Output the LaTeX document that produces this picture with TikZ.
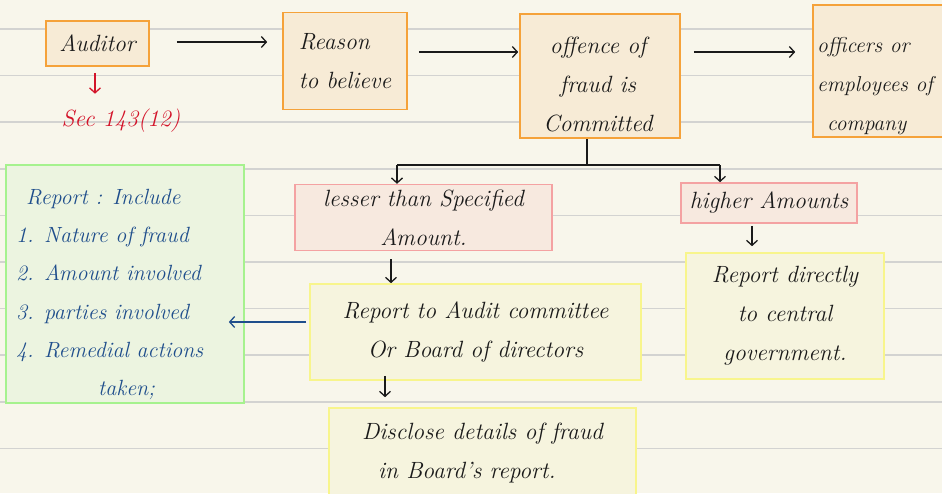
\documentclass[tikz,border=0pt]{standalone}
\usepackage{fontspec}
\usetikzlibrary{arrows.meta}

\definecolor{paper}{HTML}{F8F6EB}
\definecolor{ruling}{HTML}{D3D3D1}
\definecolor{ink}{HTML}{1A1A1A}
\definecolor{redink}{HTML}{D3142A}
\definecolor{blueink}{HTML}{1F4E8C}
\definecolor{orangeline}{HTML}{F5A23A}
\definecolor{orangefill}{HTML}{F7EBD6}
\definecolor{pinkline}{HTML}{F4A2A2}
\definecolor{pinkfill}{HTML}{F7E9DF}
\definecolor{yellowline}{HTML}{F8F58C}
\definecolor{yellowfill}{HTML}{F6F4DE}
\definecolor{greenline}{HTML}{A6F28E}
\definecolor{greenfill}{HTML}{ECF4E0}

\tikzset{
  hand/.style={font=\fontsize{23.5}{39}\selectfont\itshape, text=ink},
  box/.style={draw, line width=1.6pt, inner sep=5pt, hand},
  obox/.style={box, draw=orangeline, fill=orangefill},
  pbox/.style={box, draw=pinkline, fill=pinkfill},
  ybox/.style={box, draw=yellowline, fill=yellowfill},
  gbox/.style={box, draw=greenline, fill=greenfill},
  bluetext/.style={text=blueink, font=\fontsize{22}{38.2}\selectfont\itshape, inner sep=0pt},
  arr/.style={draw=ink, line width=1.3pt, -{Straight Barb[length=5pt,width=11pt]}},
  ruleline/.style={draw=ruling, line width=1.5pt}
}

\begin{document}
\begin{tikzpicture}[x=1pt, y=-1pt]
  \useasboundingbox (0,0) rectangle (942,493);
  \clip (0,0) rectangle (942,493);
  % ruled paper
  \fill[paper] (0,0) rectangle (942,493);
  \foreach \k in {0,...,9}
    \draw[ruleline] (0,29+46.6*\k) -- (942,29+46.6*\k);

  % top row
  \node[obox, minimum width=103pt, minimum height=45pt] (auditor) at (97.5,43.5) {Auditor};
  \node[obox, minimum width=124pt, minimum height=97pt, align=left] (reason) at (345,61)
    {Reason\\to believe};
  \node[obox, minimum width=160pt, minimum height=124pt] (offence) at (600,76) {};
  \node[hand, align=center, inner sep=0pt] (offenceText) at (598,84)
    {offence of\\fraud is\\Committed};
  \node[obox, minimum width=137pt, minimum height=132pt] (officers) at (881.5,71) {};
  \node[hand, font=\fontsize{21.5}{39}\selectfont\itshape, align=left, inner sep=0pt,
    anchor=north west] (officersText) at (817,37)
    {officers or\\employees of\\\hspace{10pt}company};

  \node[font=\fontsize{23.5}{28}\selectfont\itshape, text=redink] (sec) at (121,121) {Sec 143(12)};

  % second row
  \node[pbox, minimum width=257pt, minimum height=65pt, align=center] (lesser) at (423.5,217.5)
    {lesser than Specified\\Amount.\hspace{70pt}};
  \node[pbox, minimum width=176pt, minimum height=40pt] (higher) at (769,203) {higher Amounts};

  % third row
  \node[ybox, minimum width=331pt, minimum height=96pt, align=center] (committee) at (475.5,332)
    {Report to Audit committee\\Or Board of directors};
  \node[ybox, minimum width=198pt, minimum height=126pt, align=center] (central) at (785,316)
    {Report directly\hspace{6pt}\\to central\hspace{28pt}\\government.};
  \node[ybox, minimum width=307pt, minimum height=90pt, align=left] (disclose) at (482.5,453)
    {Disclose details of fraud\\\hspace{16pt}in Board's report.};

  % summary of what the report covers
  \node[gbox, minimum width=238pt, minimum height=238pt] (include) at (125,284) {};
  \node[bluetext, align=left, anchor=north west] (includeText) at (16,189)
    {\hspace{10pt}Report : Include\\1. Nature of fraud\\2. Amount involved\\3. parties involved\\4. Remedial actions\\\hspace{82pt}taken;};

  % connectors
  \draw[arr, shorten <=27pt, shorten >=15pt] (auditor.east |- 0,42) -- (reason.west |- 0,42);
  \draw[arr, shorten <=11pt, shorten >=1pt] (reason.east |- 0,52) -- (offence.west |- 0,52);
  \draw[arr, shorten <=13pt, shorten >=17pt] (offence.east |- 0,52) -- (officers.west |- 0,52);
  \draw[arr, draw=redink, shorten <=6pt, shorten >=12pt] (auditor.south -| 95,0) -- (sec.north -| 95,0);

  \coordinate (fork) at (587,165);
  \coordinate (forkL) at (397,165);
  \coordinate (forkR) at (720,165);
  \draw[draw=ink, line width=1.3pt] (fork |- offence.south) -- (fork);
  \draw[draw=ink, line width=1.3pt] (forkL) -- (forkR);
  \draw[arr] (forkL) -- (forkL |- lesser.north);
  \draw[arr] (forkR) -- (forkR |- higher.north);

  \draw[arr, shorten <=8pt] (lesser.south -| 391,0) -- (committee.north -| 391,0);
  \draw[arr, shorten <=-5pt, shorten >=10pt] (committee.south -| 385,0) -- (disclose.north -| 385,0);
  \draw[arr, shorten <=2pt, shorten >=6pt] (higher.south -| 752,0) -- (central.north -| 752,0);
  \draw[arr, draw=blueink, shorten <=3pt, shorten >=-16pt] (committee.west |- 0,322) -- (include.east |- 0,322);
\end{tikzpicture}
\end{document}
